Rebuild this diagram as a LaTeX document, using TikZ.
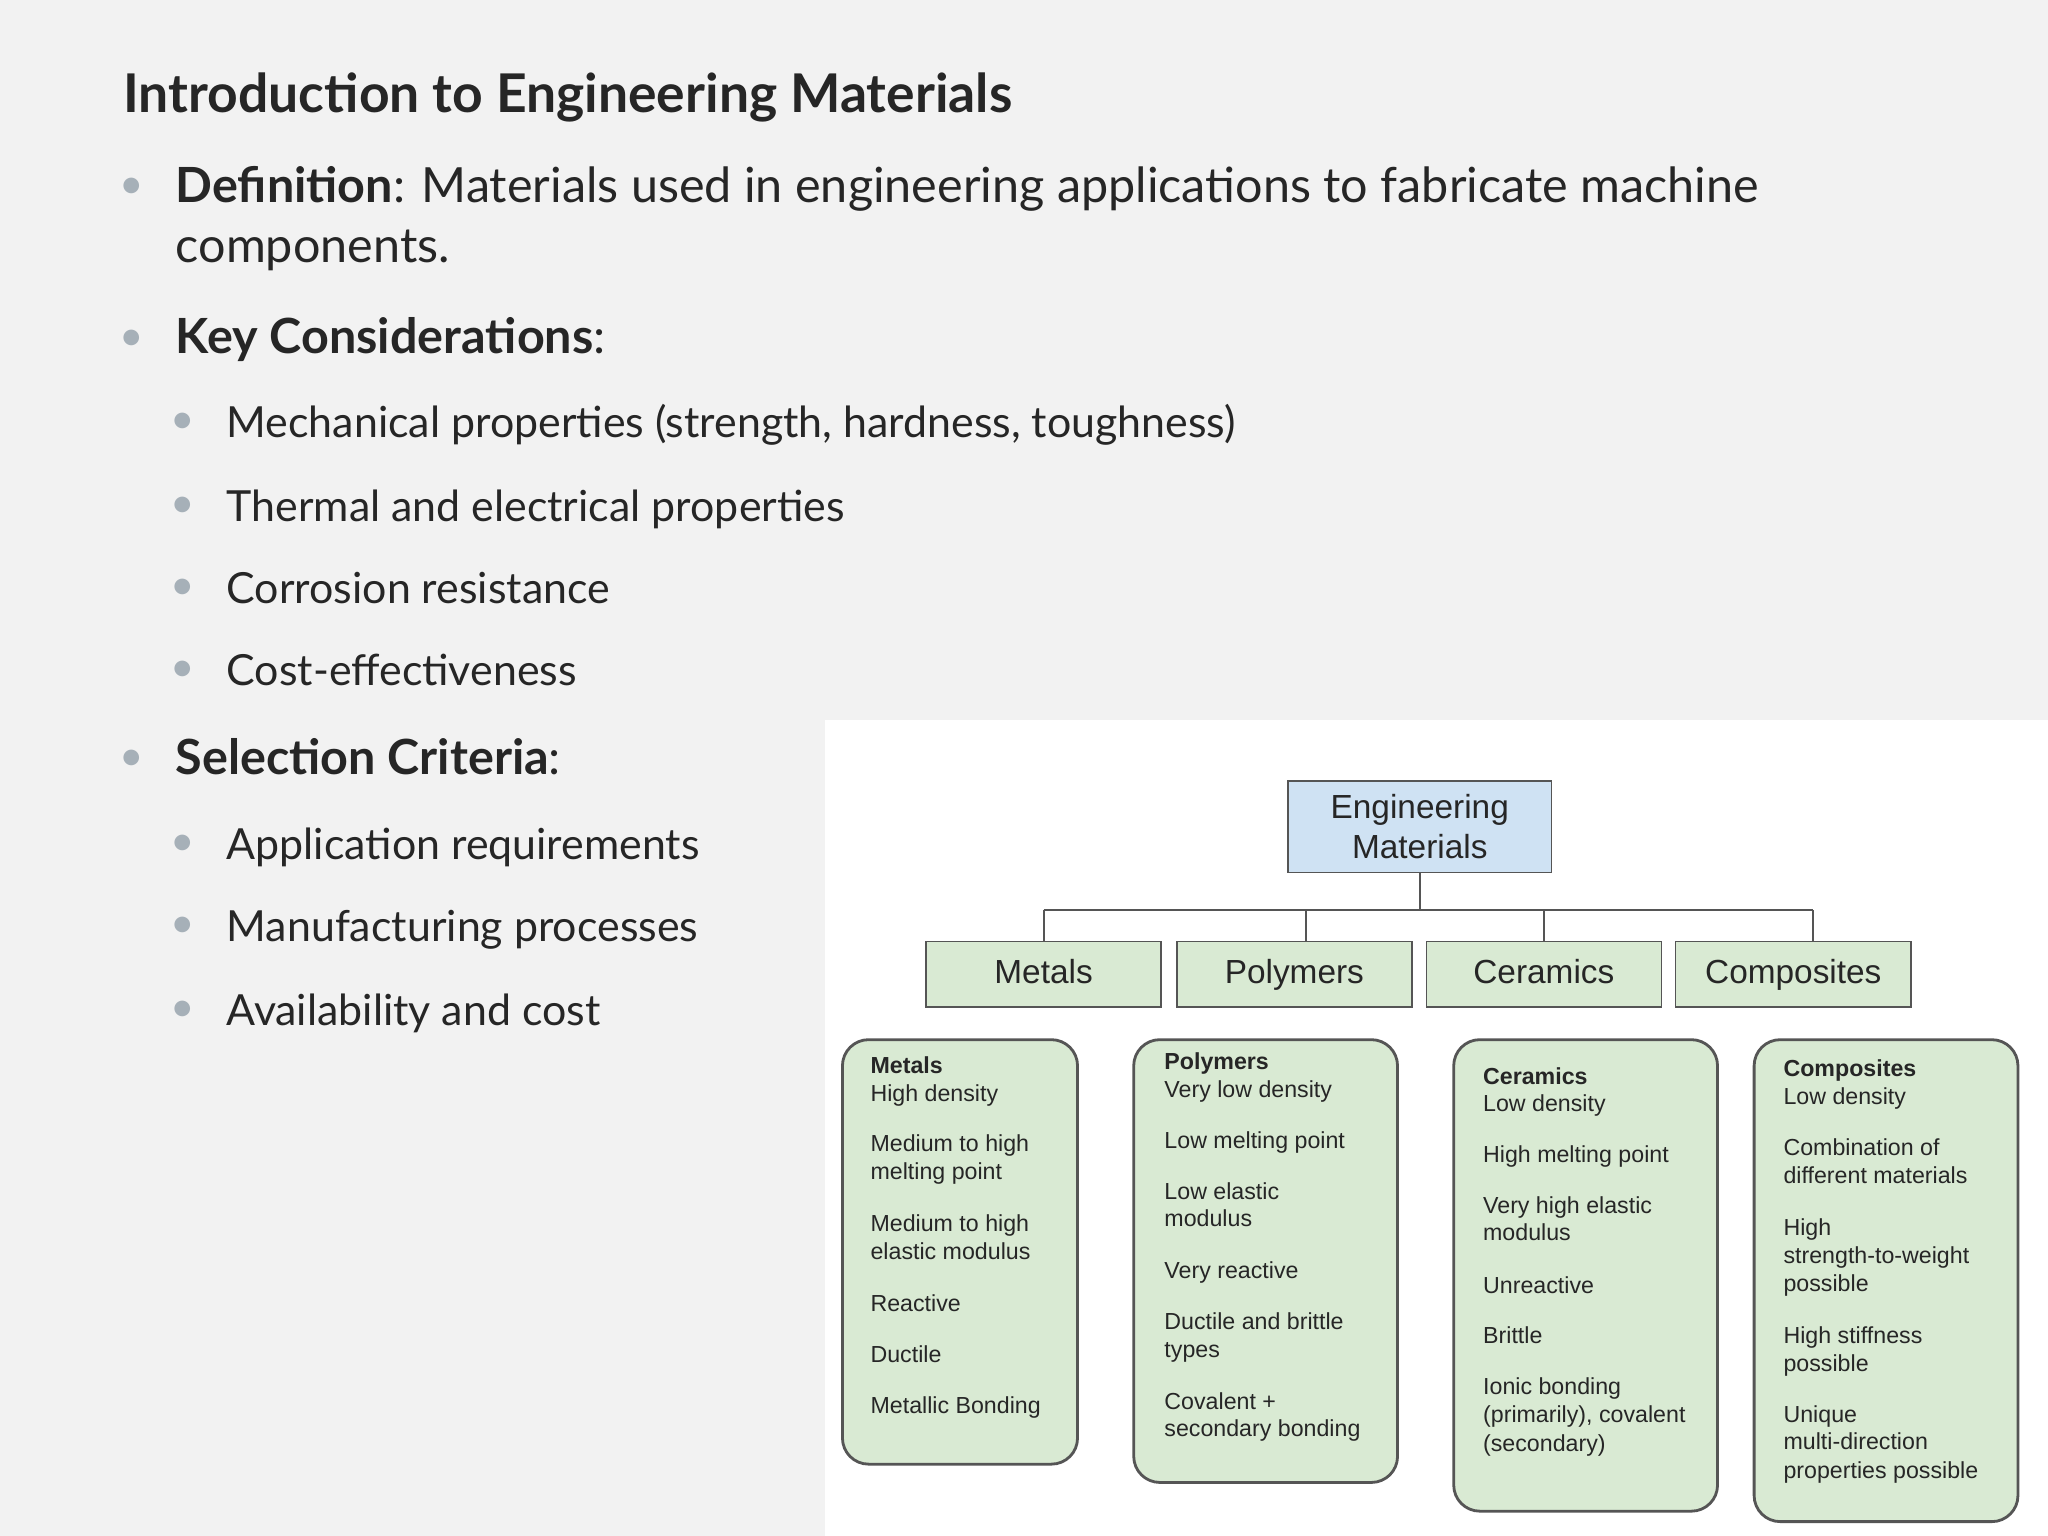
\documentclass[tikz,border=0pt]{standalone}
\usepackage{fontspec}
\setmainfont{Lato}
\newfontfamily\dia{Liberation Sans}
\definecolor{slidebg}{HTML}{F2F2F2}
\definecolor{txt}{HTML}{262626}
\definecolor{bul}{HTML}{A6B0B8}
\definecolor{blu}{HTML}{CFE2F3}
\definecolor{grn}{HTML}{D9EAD3}
\definecolor{edge}{HTML}{555555}
\begin{document}
\begin{tikzpicture}[x=0.013061cm,y=-0.013061cm,
  main/.style={anchor=base west,inner sep=0,text=txt,font=\fontsize{13.8}{17}\selectfont},
  sub/.style={anchor=base west,inner sep=0,text=txt,font=\fontsize{12.2}{15}\selectfont},
  dot/.style={anchor=base,inner sep=0,text=bul,font=\fontsize{12}{15}\selectfont},
  cat/.style={draw=edge,fill=grn,minimum width=180*0.013061cm,minimum height=50*0.013061cm,inner sep=0,text height=1.4ex,text depth=0.4ex,font=\dia\fontsize{9.5}{11}\selectfont,text=txt},
  card/.style={draw=edge,fill=grn,rounded corners=20*0.013061cm,line width=0.8pt},
  ln/.style={anchor=base west,inner sep=0,text=txt,font=\dia\fontsize{6.6}{8.2}\selectfont},
  wire/.style={draw=edge,line width=0.6pt}]
\fill[slidebg] (0,0) rectangle (1568,1176);
\useasboundingbox (0,0) rectangle (1568,1176);
\node[anchor=base west,inner sep=0,text=txt,font=\fontsize{15.2}{18}\selectfont\bfseries] (title) at (94,86) {Introduction to Engineering Materials};
\node[dot] (b1) at (101,152) {•};
\node[main] (d1) at (134,155) {\textbf{Definition}: Materials used in engineering applications to fabricate machine};
\node[main] (d2) at (134,201) {components.};
\node[dot] (b2) at (101,268) {•};
\node[main] (k) at (134,271) {\textbf{Key Considerations}:};
\node[dot] (s1) at (140,332) {•}; \node[sub] (t1) at (173,335) {Mechanical properties (strength, hardness, toughness)};
\node[dot] (s2) at (140,396) {•}; \node[sub] (t2) at (173,399) {Thermal and electrical properties};
\node[dot] (s3) at (140,459) {•}; \node[sub] (t3) at (173,462) {Corrosion resistance};
\node[dot] (s4) at (140,522) {•}; \node[sub] (t4) at (173,525) {Cost-effectiveness};
\node[dot] (b3) at (101,590) {•};
\node[main] (sc) at (134,593) {\textbf{Selection Criteria}:};
\node[dot] (s5) at (140,655) {•}; \node[sub] (t5) at (173,658) {Application requirements};
\node[dot] (s6) at (140,718) {•}; \node[sub] (t6) at (173,721) {Manufacturing processes};
\node[dot] (s7) at (140,782) {•}; \node[sub] (t7) at (173,785) {Availability and cost};
% diagram
\fill[white] (632,551) rectangle (1568,1176);
\node[draw=edge,fill=blu,minimum width=202*0.013061cm,minimum height=70*0.013061cm,inner sep=0,align=center,font=\dia\fontsize{9.5}{11.5}\selectfont,text=txt] (root) at (1087,633) {Engineering\\Materials};
\node[cat] (m) at (799,746) {Metals};
\node[cat] (p) at (991,746) {Polymers};
\node[cat] (c) at (1182,746) {Ceramics};
\node[cat] (k2) at (1373,746) {Composites};
\coordinate (j) at (1087,697);
\draw[wire] (root.south) -- (j);
\draw[wire] (799,697) -- (1388,697);
\draw[wire] (799,697) -- (799,721);
\draw[wire] (1000,697) -- (1000,721);
\draw[wire] (1182,697) -- (1182,721);
\draw[wire] (1388,697) -- (1388,721);
\draw[card] (645,796) rectangle (825,1121);
\draw[card] (868,796) rectangle (1070,1135);
\draw[card] (1113,796) rectangle (1315,1157);
\draw[card] (1343,796) rectangle (1545,1165);
% metals
\node[ln] at (666,822) {\textbf{Metals}};
\node[ln] at (666,843) {High density};
\node[ln] at (666,882) {Medium to high};
\node[ln] at (666,903) {melting point};
\node[ln] at (666,943) {Medium to high};
\node[ln] at (666,964) {elastic modulus};
\node[ln] at (666,1004) {Reactive};
\node[ln] at (666,1043) {Ductile};
\node[ln] at (666,1082) {Metallic Bonding};
% polymers
\node[ln] at (891,819) {\textbf{Polymers}};
\node[ln] at (891,840) {Very low density};
\node[ln] at (891,879) {Low melting point};
\node[ln] at (891,918) {Low elastic};
\node[ln] at (891,939) {modulus};
\node[ln] at (891,979) {Very reactive};
\node[ln] at (891,1018) {Ductile and brittle};
\node[ln] at (891,1039) {types};
\node[ln] at (891,1079) {Covalent +};
\node[ln] at (891,1100) {secondary bonding};
% ceramics
\node[ln] at (1135,830) {\textbf{Ceramics}};
\node[ln] at (1135,851) {Low density};
\node[ln] at (1135,890) {High melting point};
\node[ln] at (1135,929) {Very high elastic};
\node[ln] at (1135,950) {modulus};
\node[ln] at (1135,990) {Unreactive};
\node[ln] at (1135,1029) {Brittle};
\node[ln] at (1135,1068) {Ionic bonding};
\node[ln] at (1135,1089) {(primarily), covalent};
\node[ln] at (1135,1111) {(secondary)};
% composites
\node[ln] at (1365,824) {\textbf{Composites}};
\node[ln] at (1365,846) {Low density};
\node[ln] at (1365,885) {Combination of};
\node[ln] at (1365,906) {different materials};
\node[ln] at (1365,946) {High};
\node[ln] at (1365,967) {strength-to-weight};
\node[ln] at (1365,989) {possible};
\node[ln] at (1365,1029) {High stiffness};
\node[ln] at (1365,1050) {possible};
\node[ln] at (1365,1089) {Unique};
\node[ln] at (1365,1110) {multi-direction};
\node[ln] at (1365,1132) {properties possible};
\end{tikzpicture}
\end{document}
